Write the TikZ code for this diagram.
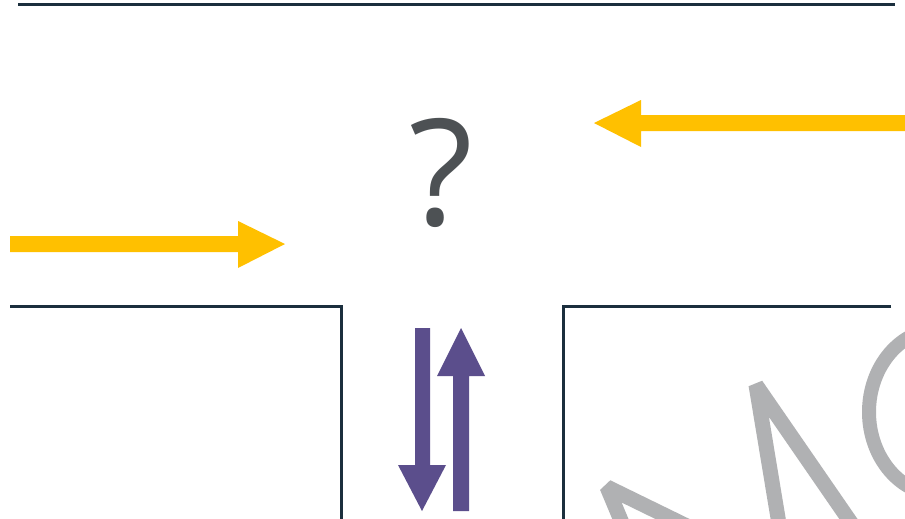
\documentclass[tikz,border=0pt]{standalone}
\usepackage{fontspec}
\setmainfont{Open Sans}
\definecolor{roadline}{HTML}{1B2F3D}
\definecolor{amber}{HTML}{FFC000}
\definecolor{violet}{HTML}{5B4E8C}
\definecolor{qgray}{HTML}{4D5154}
\definecolor{lgray}{HTML}{B0B1B3}
\tikzset{
  road/.style={draw=roadline, line width=3pt, line cap=butt},
  yarrow/.style={fill=amber, draw=none},
  parrow/.style={fill=violet, draw=none},
  glyphstroke/.style={draw=lgray, line width=15pt, line join=bevel},
}
\begin{document}
\begin{tikzpicture}[x=1pt,y=-1pt]
\useasboundingbox (0,0) rectangle (905,519);
\clip (0,0) rectangle (905,519);
\fill[white] (0,0) rectangle (905,519);
% roads
\draw[road] (18,5) -- (895,5);
\draw[road] (10,306) -- (341,306) -- (341,525);
\draw[road] (891,306) -- (563,306) -- (563,525);
% question mark
\node[text=qgray, anchor=base, inner sep=0pt, font=\fontsize{148}{148}\selectfont] (q) at (441,225) {?};
% yellow arrows
\fill[yarrow] (10,236) -- (238,236) -- (238,221) -- (285,244) -- (238,268) -- (238,252) -- (10,252) -- cycle;
\fill[yarrow] (905,115) -- (641,115) -- (641,100) -- (594,123) -- (641,147) -- (641,131) -- (905,131) -- cycle;
% purple arrows
\fill[parrow] (415,328) -- (430,328) -- (430,465) -- (446,465) -- (422,511) -- (398,465) -- (415,465) -- cycle;
\fill[parrow] (453,511) -- (469,511) -- (469,376) -- (485,376) -- (461,328) -- (437,376) -- (453,376) -- cycle;
% grey letter strokes
\draw[glyphstroke] (625,530) -- (607,487) -- (695,530);
\draw[glyphstroke] (780,530) -- (756,385) -- (856,530);
\draw[draw=lgray, line width=14pt] (940,412) ellipse [x radius=71, y radius=83];
\end{tikzpicture}
\end{document}
